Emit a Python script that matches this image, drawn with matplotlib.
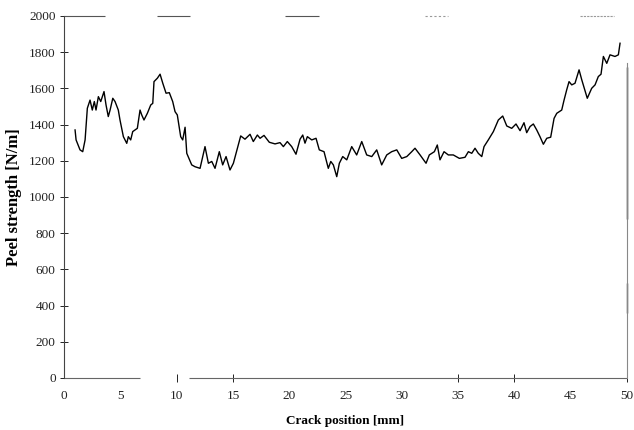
import matplotlib
matplotlib.use("Agg")
import matplotlib.pyplot as plt

# peel test trace: crack position [mm] vs peel strength [N/m]
crack_mm = [0.98, 1.07, 1.42, 1.66, 1.87, 2.07, 2.31, 2.51, 2.69, 2.84,
            3.05, 3.26, 3.55, 3.73, 3.93, 4.09, 4.33, 4.53, 4.82, 4.97,
            5.27, 5.57, 5.71, 5.92, 6.10, 6.31, 6.51, 6.75, 6.90, 7.10,
            7.40, 7.70, 7.88, 7.99, 8.29, 8.53, 8.77, 9.06, 9.35, 9.65,
            9.86, 10.06, 10.36, 10.54, 10.75, 10.90, 11.34, 11.63, 12.08, 12.52,
            12.82, 13.12, 13.41, 13.79, 14.09, 14.39, 14.74, 15.04, 15.28, 15.69,
            16.07, 16.52, 16.81, 17.17, 17.41, 17.76, 18.23, 18.74, 19.18, 19.48,
            19.83, 20.22, 20.60, 20.96, 21.20, 21.40, 21.61, 22.00, 22.38, 22.67,
            23.09, 23.47, 23.69, 23.92, 24.22, 24.45, 24.75, 25.11, 25.55, 25.99,
            26.44, 26.88, 27.33, 27.77, 28.21, 28.66, 29.10, 29.55, 29.99, 30.44,
            30.88, 31.17, 31.62, 32.15, 32.44, 32.89, 33.15, 33.39, 33.75, 34.13,
            34.57, 35.11, 35.61, 35.91, 36.21, 36.50, 36.79, 37.10, 37.30, 37.68,
            38.13, 38.57, 38.96, 39.32, 39.76, 40.14, 40.50, 40.85, 41.09, 41.39,
            41.68, 41.98, 42.27, 42.57, 42.87, 43.22, 43.52, 43.76, 44.20, 44.40,
            44.64, 44.85, 45.09, 45.38, 45.74, 45.98, 46.47, 46.86, 47.16, 47.45,
            47.69, 47.90, 48.20, 48.49, 48.93, 49.23, 49.38]
peel_strength = [1370, 1315, 1260, 1250, 1315, 1490, 1535, 1480, 1527, 1480,
                 1554, 1527, 1582, 1508, 1444, 1480, 1545, 1527, 1480, 1425,
                 1333, 1296, 1333, 1315, 1361, 1370, 1379, 1480, 1453, 1425,
                 1462, 1508, 1517, 1637, 1656, 1678, 1628, 1573, 1576, 1527,
                 1471, 1453, 1333, 1315, 1385, 1241, 1177, 1167, 1158, 1278,
                 1186, 1196, 1158, 1250, 1177, 1223, 1149, 1186, 1241, 1337,
                 1319, 1346, 1306, 1342, 1324, 1340, 1302, 1293, 1300, 1278,
                 1306, 1278, 1236, 1319, 1342, 1297, 1333, 1315, 1324, 1260,
                 1250, 1158, 1196, 1177, 1112, 1186, 1223, 1205, 1278, 1232,
                 1306, 1232, 1223, 1260, 1177, 1232, 1250, 1260, 1213, 1223,
                 1250, 1269, 1232, 1186, 1232, 1250, 1287, 1205, 1250, 1232,
                 1232, 1213, 1219, 1250, 1241, 1269, 1241, 1223, 1278, 1315,
                 1361, 1425, 1447, 1392, 1379, 1403, 1366, 1410, 1355, 1389,
                 1403, 1370, 1333, 1291, 1324, 1330, 1434, 1462, 1480, 1533,
                 1591, 1637, 1619, 1628, 1702, 1647, 1545, 1600, 1619, 1665,
                 1678, 1776, 1738, 1785, 1776, 1785, 1849]

x_ticks = list(range(0, 55, 5))
y_ticks = list(range(0, 2200, 200))

plt.rcParams['font.family'] = ['Liberation Serif', 'DejaVu Serif']

fig = plt.figure(figsize=(6.34, 4.30), dpi=100)
ax = fig.add_axes([0.101, 0.121, 0.888, 0.842])

ax.plot(crack_mm, peel_strength, color='black', linewidth=1.0)

ax.set_xlim(0, 50)
ax.set_ylim(0, 2000)
ax.set_xticks(x_ticks)
ax.set_yticks(y_ticks)
ax.tick_params(direction='inout', length=6, width=0.7, labelsize=9.5,
               colors='#222222')
ax.tick_params(axis='x', pad=6)
ax.tick_params(axis='y', pad=3)

# some bottom ticks are barely printed
for i in (0, 1, 4, 5, 6, 9):
    ax.xaxis.get_major_ticks()[i].tick1line.set_visible(False)

# frame: broken top and bottom edges, faint right edge
ax.spines['top'].set_visible(False)
ax.spines['bottom'].set_visible(False)
ax.spines['left'].set_color('#444444')
ax.spines['left'].set_linewidth(0.8)
ax.spines['right'].set_color('#888888')
ax.spines['right'].set_linewidth(0.8)
ax.spines['right'].set_bounds(0, 1740)
ax.hlines(0, 0, 6.75, color='#666666', linewidth=0.8, clip_on=False)
ax.hlines(0, 11.1, 50, color='#666666', linewidth=0.8, clip_on=False)
ax.hlines(2000, 0, 3.6, color='#555555', linewidth=0.8, clip_on=False)
ax.hlines(2000, 8.3, 11.2, color='#555555', linewidth=0.8, clip_on=False)
ax.hlines(2000, 19.6, 22.6, color='#555555', linewidth=0.8, clip_on=False)
ax.hlines(2000, 32.1, 34.1, color='#999999', linewidth=0.8,
          linestyles=(0, (2, 2)), clip_on=False)
ax.hlines(2000, 45.8, 48.8, color='#999999', linewidth=0.8,
          linestyles=(0, (2, 1)), clip_on=False)
ax.vlines(50, 880, 1720, color='black', linewidth=1.0, clip_on=False)
ax.vlines(50, 360, 525, color='#333333', linewidth=1.0, clip_on=False)

ax.set_xlabel('Crack position [mm]', fontsize=9.5, fontweight='bold', labelpad=9)
ax.set_ylabel('Peel strength [N/m]', fontsize=12, fontweight='bold', labelpad=5)

fig.savefig('out.png', dpi=100)
